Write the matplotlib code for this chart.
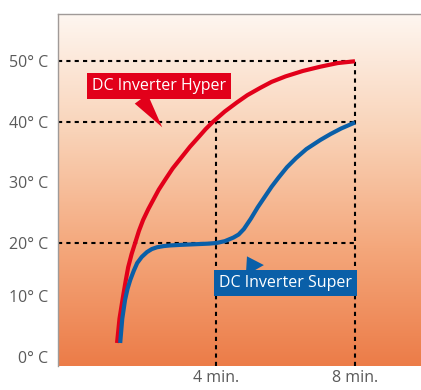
import numpy as np
import matplotlib.pyplot as plt
from matplotlib.colors import LinearSegmentedColormap

# temperature rise (deg C) vs time (min)
hyper_t = [1.15, 1.22, 1.32, 1.40, 1.47, 1.57, 1.67, 1.78, 1.90, 2.05, 2.19, 2.35, 2.53, 2.75,
           3.0, 3.25, 3.5, 3.7, 3.91, 4.25, 4.6, 4.9, 5.27, 5.6, 6.0, 6.5, 7.0, 7.5, 8.0]
hyper_temp = [3.5, 7.5, 11.1, 13.8, 16.0, 18.2, 20.0, 22.0, 23.8, 25.6, 27.1, 28.8, 30.4, 32.3,
              34.1, 35.9, 37.5, 38.8, 40.0, 41.7, 43.2, 44.4, 45.6, 46.6, 47.5, 48.4, 49.1, 49.7, 50.0]

super_t = [1.24, 1.30, 1.38, 1.45, 1.53, 1.63, 1.73, 1.86, 2.01, 2.15, 2.30, 2.5, 2.68, 3.0,
           3.4, 3.8, 4.0, 4.25, 4.5, 4.65, 4.8, 5.0, 5.2, 5.4, 5.6, 5.8, 6.04, 6.3, 6.6,
           7.0, 7.3, 7.6, 8.0]
super_temp = [3.5, 7.5, 10.6, 12.4, 13.9, 15.4, 16.7, 17.7, 18.5, 19.0, 19.3, 19.5, 19.6, 19.7,
              19.8, 19.9, 20.0, 20.3, 20.9, 21.4, 22.3, 24.0, 25.9, 27.6, 29.3, 30.8, 32.5, 34.0, 35.5,
              37.0, 38.0, 38.9, 39.9]

ytick_labels = ['0° C', '10° C', '20° C', '30° C', '40° C', '50° C']
xtick_vals = [4, 8]
xtick_labels = ['4 min.', '8 min.']

# guide lines
guide_y = [20, 40, 50]
guide_x = [4, 8]
guide_x_top = [40, 50]

red = '#e2001a'
blue = '#0a5fa8'
grey = '#5a5a5a'

plt.rcParams['font.family'] = ['Open Sans', 'DejaVu Sans']

fig = plt.figure(figsize=(4.21, 3.90), dpi=100)
ax = fig.add_axes([58/421, 24/390, 363/421, 352/390])
xlim = (-0.55, 9.9)
ylim = (-0.3, 57.8)
ax.set_xlim(xlim)
ax.set_ylim(ylim)

# background gradient, light on top, orange at the bottom
cmap = LinearSegmentedColormap.from_list('bg', ['#fef6f0', '#f9d3b8', '#f4a77b', '#ec7c48'])
grad = np.linspace(0, 1, 256).reshape(-1, 1)
ax.imshow(grad, cmap=cmap, aspect='auto', extent=(xlim[0], xlim[1], ylim[0], ylim[1]),
          origin='upper', zorder=0)

dash = dict(color='black', linewidth=1.5, linestyle=(0, (2, 2)), zorder=2)
ax.hlines(guide_y, xlim[0], 8, **dash)
ax.vlines(guide_x, ylim[0], guide_x_top, **dash)

ax.plot(hyper_t, hyper_temp, color=red, linewidth=3, zorder=3,
        solid_joinstyle='round', solid_capstyle='butt')
ax.plot(super_t, super_temp, color=blue, linewidth=3, zorder=3,
        solid_joinstyle='round', solid_capstyle='butt')

ax.annotate('DC Inverter Hyper', xy=(2.45, 39.1), xytext=(2.36, 45.9),
            ha='center', va='center', color='white', fontsize=11.5, zorder=5,
            bbox=dict(boxstyle='square,pad=0.3', fc=red, ec='none'),
            arrowprops=dict(arrowstyle='wedge,tail_width=1.0', fc=red, ec='none',
                            relpos=(0.34, 0), shrinkA=0, shrinkB=0))
ax.annotate('DC Inverter Super', xy=(4.89, 17.8), xytext=(6.0, 13.4),
            ha='center', va='center', color='white', fontsize=11.5, zorder=5,
            bbox=dict(boxstyle='square,pad=0.3', fc=blue, ec='none'),
            arrowprops=dict(arrowstyle='wedge,tail_width=1.3', fc=blue, ec='none',
                            relpos=(0.29, 1), shrinkA=0, shrinkB=0))

# labels for 0 and 10 sit a bit higher than the value in the original
ytick_pos = [1.2, 11.2, 20, 30, 40, 50]
ax.set_yticks(ytick_pos)
ax.set_yticklabels(ytick_labels)
ax.set_xticks(xtick_vals)
ax.set_xticklabels(xtick_labels)
ax.tick_params(length=0, labelsize=11.5, colors=grey)
ax.tick_params(axis='y', pad=7)
ax.tick_params(axis='x', pad=3)

for s in ['right', 'bottom']:
    ax.spines[s].set_visible(False)
for s in ['left', 'top']:
    ax.spines[s].set_color('#a09a98')
    ax.spines[s].set_linewidth(1)

fig.savefig('out.png', dpi=100)
